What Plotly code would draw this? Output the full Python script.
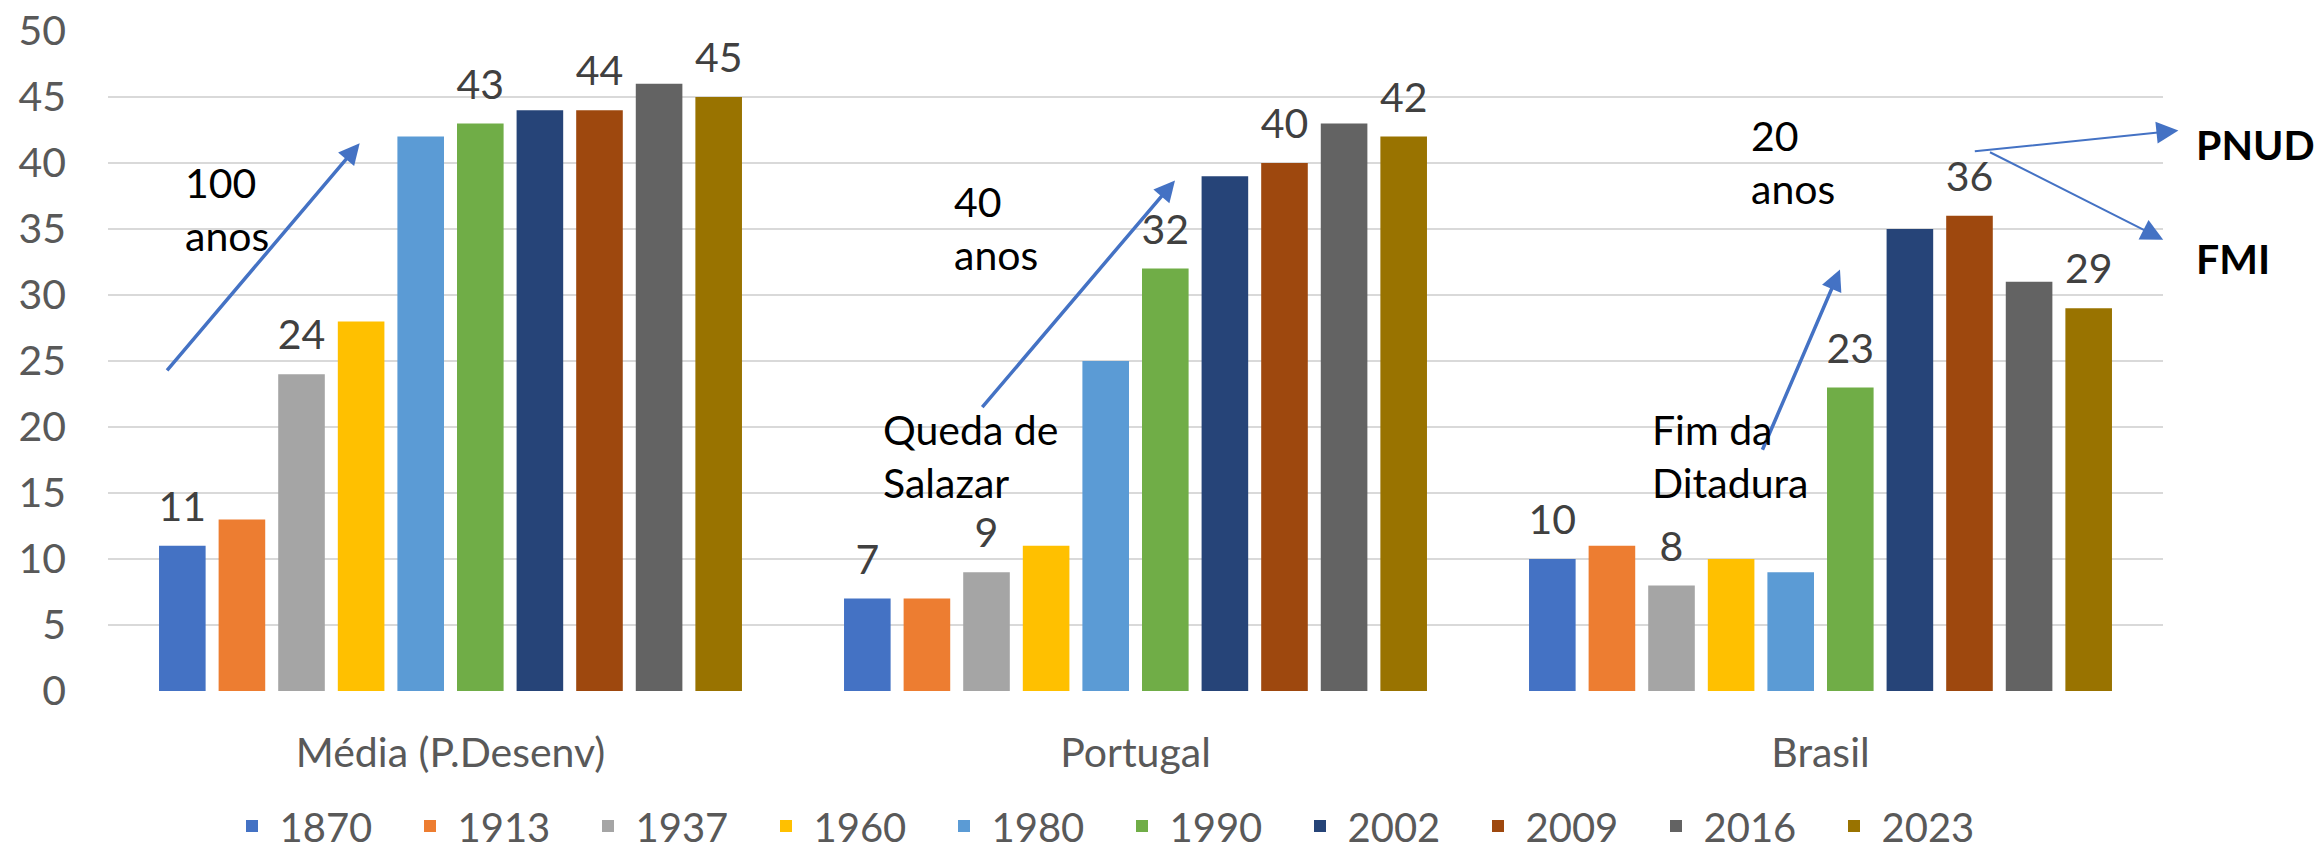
import plotly.graph_objects as go

categories = ["Média (P.Desenv)", "Portugal", "Brasil"]
years = ["1870", "1913", "1937", "1960", "1980", "1990", "2002", "2009", "2016", "2023"]

v1870 = [11, 7, 10]
v1913 = [13, 7, 11]
v1937 = [24, 9, 8]
v1960 = [28, 11, 10]
v1980 = [42, 25, 9]
v1990 = [43, 32, 23]
v2002 = [44, 39, 35]
v2009 = [44, 40, 36]
v2016 = [46, 43, 31]
v2023 = [45, 42, 29]
series_values = [v1870, v1913, v1937, v1960, v1980, v1990, v2002, v2009, v2016, v2023]

labeled_years = ["1870", "1937", "1990", "2009", "2023"]
y_ticks = [0, 5, 10, 15, 20, 25, 30, 35, 40, 45, 50]

colors = ["#4472C4", "#ED7D31", "#A5A5A5", "#FFC000", "#5B9BD5",
          "#70AD47", "#264478", "#9E480E", "#636363", "#997300"]

FONT = "Lato"
FS = 41

fig = go.Figure()
for yr, vals, col in zip(years, series_values, colors):
    show = yr in labeled_years
    fig.add_trace(go.Bar(
        name=yr, x=categories, y=vals,
        marker=dict(color=col, line=dict(width=0)),
        texttemplate=(f"<span style='font-size:{FS}px'>%{{y}}</span><br>\u00a0") if show else None,
        textposition="outside" if show else "none",
        textfont=dict(family=FONT, size=14.5, color="#404040"),
        constraintext="none",
        cliponaxis=False,
    ))

# plot area: left 108, right 2163, top 31, bottom 691 (px)
PW, PH = 2055.0, 660.0
L, B = 108.0, 691.0

def px(xp):
    return (xp - L) / PW

def py(yp):
    return (B - yp) / PH

arrow_color = "#4472C4"
annotations = []

def arrow(tail, head, width, size):
    annotations.append(dict(
        x=px(head[0]), y=py(head[1]), xref="paper", yref="paper",
        ax=tail[0] - head[0], ay=tail[1] - head[1], axref="pixel", ayref="pixel",
        text="", showarrow=True, arrowhead=2, arrowsize=size, arrowwidth=width,
        arrowcolor=arrow_color, standoff=0, startstandoff=0,
    ))

arrow((165.8, 371.9), (359.7, 143.2), 3.5, 1.2)
arrow((981.0, 408.6), (1175.0, 180.4), 3.5, 1.2)
arrow((1761.8, 451.3), (1840.0, 269.5), 3.5, 1.2)
arrow((1973.3, 151.5), (2178.4, 130.4), 2.0, 2.2)
arrow((1988.5, 151.5), (2163.2, 239.7), 2.0, 2.2)

def label(txt, left, cy, bold=False):
    annotations.append(dict(
        x=px(left), y=py(cy), xref="paper", yref="paper",
        text=f"<b>{txt}</b>" if bold else txt, showarrow=False,
        xanchor="left", yanchor="middle", align="left",
        font=dict(family=FONT, size=FS, color="#000000"),
        borderpad=0,
    ))

label("100<br>anos", 184, 209)
label("40<br>anos", 953, 228)
label("Queda de<br>Salazar", 882, 456)
label("20<br>anos", 1750, 162)
label("Fim da<br>Ditadura", 1651, 456)
label("PNUD", 2195, 144, bold=True)
label("FMI", 2195, 258, bold=True)

fig.update_layout(
    width=2321, height=852,
    margin=dict(l=108, r=158, t=31, b=161, autoexpand=False),
    paper_bgcolor="white", plot_bgcolor="white",
    barmode="group", bargap=0.13, bargroupgap=0.218,
    font=dict(family=FONT, size=FS, color="#595959"),
    showlegend=True,
    legend=dict(
        orientation="h", x=px(224.5), xanchor="left",
        y=py(826), yanchor="middle",
        font=dict(family=FONT, size=40, color="#595959"),
        itemwidth=45, entrywidth=118.0, entrywidthmode="pixels",
        bgcolor="rgba(0,0,0,0)", borderwidth=0,
        traceorder="normal",
    ),
    annotations=annotations,
)
fig.update_xaxes(
    type="category", showgrid=False, showline=False, zeroline=False,
    ticks="", tickfont=dict(family=FONT, size=FS, color="#595959"),
    ticklabelstandoff=34,
)
fig.update_yaxes(
    range=[0, 50], tickvals=y_ticks, showgrid=True, gridcolor="#D9D9D9", gridwidth=2,
    zeroline=False, showline=False, ticks="",
    tickfont=dict(family=FONT, size=FS, color="#595959"),
    ticklabelstandoff=41,
)

fig.write_html(
    "out.html",
    config={"displayModeBar": False},
    post_script="document.body.style.margin='0';document.body.style.padding='0';",
)
